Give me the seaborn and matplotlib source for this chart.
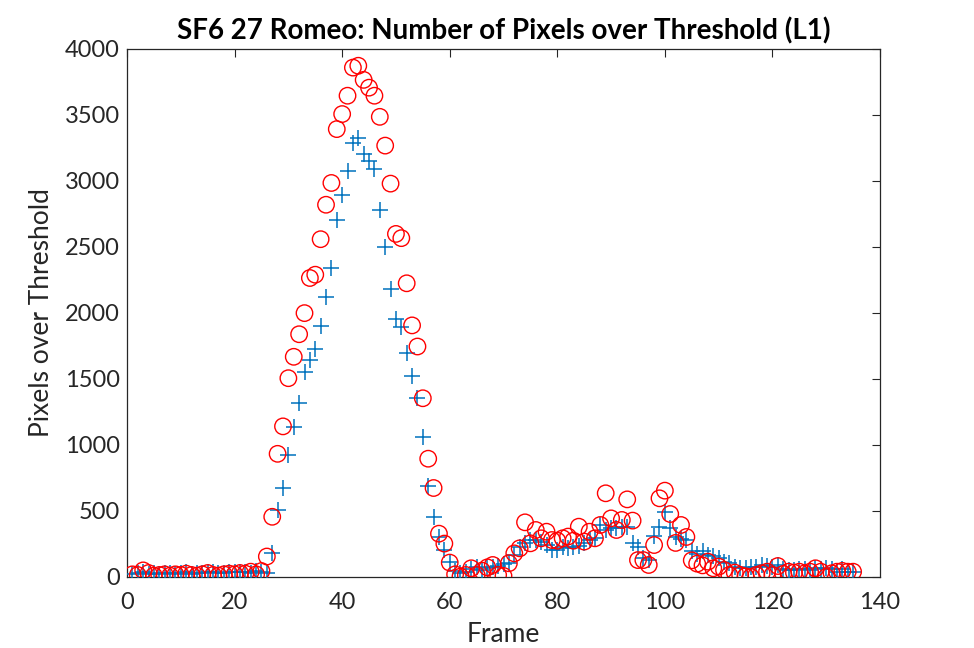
import numpy as np
import pandas as pd
import matplotlib
matplotlib.use("Agg")
import matplotlib.pyplot as plt
import seaborn as sns

frames = list(range(1, 136))

pixels_plus = [
    25, 30, 35, 25, 30, 20, 28, 30, 22, 30, 35, 25, 28, 30, 35, 40, 30, 28, 35, 38,
    40, 35, 30, 45, 40, 30, 181, 506, 674, 927, 1133, 1319, 1554, 1647, 1727, 1900,
    2122, 2340, 2705, 2894, 3073, 3286, 3326, 3206, 3153, 3094, 2780, 2500, 2180, 1954,
    1895, 1700, 1519, 1354, 1061, 688, 456, 301, 208, 115, 43, 28, 40, 58, 73, 53,
    66, 73, 83, 95, 104, 165, 230, 260, 280, 280, 268, 242, 205, 205, 230, 218, 230,
    235, 255, 280, 293, 394, 356, 369, 369, 381, 381, 255, 225, 141, 128, 310, 381,
    495, 369, 305, 290, 280, 200, 175, 195, 167, 159, 141, 116, 103, 78, 66, 66, 78,
    78, 91, 85, 78, 91, 60, 53, 53, 58, 58, 53, 66, 58, 66, 58, 40, 58, 40, 40,
]

pixels_circle = [
    20, 15, 50, 30, 10, 15, 20, 10, 20, 15, 25, 15, 10, 20, 30, 15, 10, 20, 25, 20,
    30, 25, 40, 20, 45, 155, 456, 933, 1141, 1506, 1668, 1839, 1999, 2265, 2290, 2559,
    2820, 2985, 3393, 3507, 3646, 3859, 3873, 3766, 3707, 3646, 3486, 3268, 2980, 2599,
    2567, 2225, 1906, 1746, 1354, 896, 674, 328, 253, 109, 20, 3, 15, 66, 15, 48,
    73, 91, 15, 8, 104, 179, 217, 414, 255, 356, 293, 343, 280, 275, 293, 306, 275,
    381, 268, 343, 293, 394, 634, 444, 356, 432, 588, 427, 128, 128, 91, 242, 596,
    654, 477, 258, 394, 303, 126, 101, 88, 116, 66, 78, 53, 15, 33, 15, 5, 0, 15,
    28, 40, 15, 83, 23, 40, 33, 40, 28, 40, 66, 40, 0, 28, 40, 46, 40, 40,
]

title = "SF6 27 Romeo: Number of Pixels over Threshold (L1)"
xlabel = "Frame"
ylabel = "Pixels over Threshold"
xticks = [0, 20, 40, 60, 80, 100, 120, 140]
yticks = [0, 500, 1000, 1500, 2000, 2500, 3000, 3500, 4000]

df = pd.DataFrame({"frame": frames, "plus": pixels_plus, "circle": pixels_circle})

sns.set_style("white")
plt.rcParams["font.family"] = ["Lato", "DejaVu Sans"]

fig = plt.figure(figsize=(9.74, 6.48), dpi=100)
ax = fig.add_axes([0.1304, 0.1096, 0.7731, 0.8148])

sns.scatterplot(data=df, x="frame", y="plus", marker="+", s=120,
                color="#0072BD", linewidth=1.1, ax=ax, zorder=3)
sns.scatterplot(data=df, x="frame", y="circle", marker="o", s=140,
                facecolors="none", edgecolor="#FF0000", linewidth=1.0, ax=ax, zorder=3)

ax.set_xlim(0, 140)
ax.set_ylim(0, 4000)
ax.set_xticks(xticks)
ax.set_yticks(yticks)
ax.tick_params(direction="in", length=6, width=0.8, top=True, right=True,
               labelsize=17, colors="#262626", pad=5)
ax.tick_params(axis="x", pad=11)
for sp in ax.spines.values():
    sp.set_visible(True)
    sp.set_color("#262626")
    sp.set_linewidth(0.9)

ax.set_xlabel(xlabel, fontsize=19, color="#262626", labelpad=6)
ax.set_ylabel(ylabel, fontsize=19, color="#262626", labelpad=8)
ax.set_title(title, fontsize=20, fontweight="bold", color="black", pad=7)

fig.savefig("out.png", dpi=100, facecolor="white")
